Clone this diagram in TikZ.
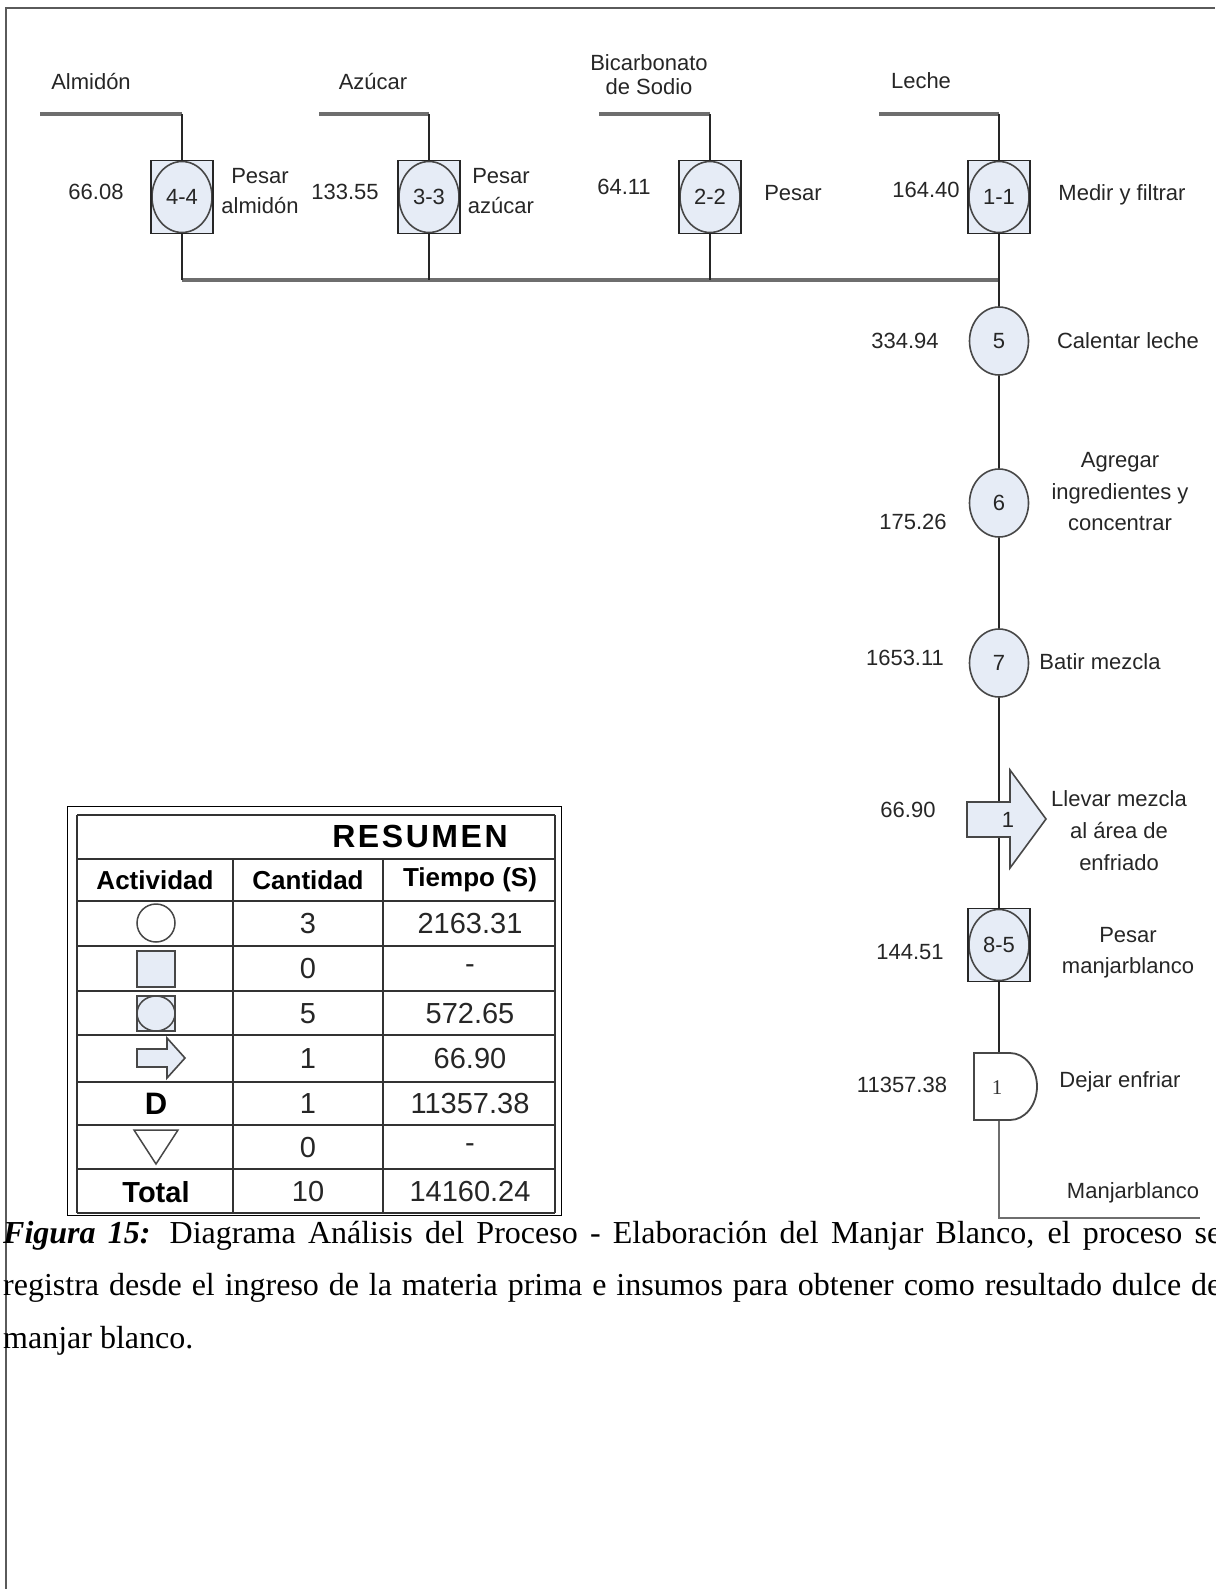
\documentclass[tikz,border=0pt]{standalone}
\usepackage{fontspec}
\setmainfont{Liberation Serif}
\newfontfamily\diagfont{Liberation Sans}
\newfontfamily\spacedfont[LetterSpace=8]{Liberation Sans}
\usetikzlibrary{shapes.geometric}
\definecolor{opfill}{HTML}{E6ECF6}
\definecolor{edgegray}{HTML}{474747}
\definecolor{feedgray}{HTML}{6E6E6E}
\definecolor{framegray}{HTML}{5A5A5A}
\pgfdeclarelayer{bg}
\pgfsetlayers{bg,main}
\begin{document}
\begin{tikzpicture}[x=1pt,y=-1pt,
  lbl/.style={font=\diagfont\fontsize{22}{30}\selectfont, text=black!85, inner sep=0, align=center},
  opcirc/.style={ellipse, draw=edgegray, line width=1.6, fill=opfill, minimum width=59, minimum height=68, inner sep=0,
    font=\diagfont\fontsize{22}{26}\selectfont, text=black!85},
  opbox/.style={rectangle, draw=black!85, line width=1.8, fill=opfill, minimum width=62, minimum height=73, inner sep=0,
    font=\diagfont\fontsize{22}{26}\selectfont, text=black!85,
    path picture={\draw[edgegray, line width=1.6] (path picture bounding box.center) ellipse [x radius=30, y radius=35.5];}},
  feed/.style={feedgray, line width=3.2},
  flow/.style={black!85, line width=1.5},
  symline/.style={draw=edgegray, line width=1.6, fill=opfill},
  tline/.style={black!80, line width=2},
  thead/.style={font=\diagfont\bfseries\fontsize{26}{30}\selectfont, inner sep=0},
  tval/.style={font=\diagfont\fontsize{29}{32}\selectfont, text=black!85, inner sep=0},
  pageframe/.style={framegray, line width=2}
]
\useasboundingbox (0,0) rectangle (1215,1589);
\clip (0,0) rectangle (1215,1589);

% page frame
\draw[pageframe] (6,1589) -- (6,8) -- (1215,8);

% ---------- operations ----------
\node[opbox] (b44) at (182,197) {4-4};
\node[opbox] (b33) at (429,197) {3-3};
\node[opbox] (b22) at (710,197) {2-2};
\node[opbox] (b11) at (999,197) {1-1};
\node[opcirc] (c5) at (999,341) {5};
\node[opcirc] (c6) at (999,503) {6};
\node[opcirc] (c7) at (999,663) {7};
\node[opbox] (b85) at (999,945) {8-5};

% transport arrow
\coordinate (tc) at (999,819);
\filldraw[symline] (967,802) -- (1010,802) -- (1010,770) -- (1046,819) -- (1010,868) -- (1010,837) -- (967,837) -- cycle;
\node[lbl] (tnum) at (1008,820) {1};

% delay
\coordinate (dc) at (999,1086);
\filldraw[draw=edgegray, line width=1.8, fill=white] (974,1053) -- (1010,1053)
  arc[start angle=-90, end angle=90, x radius=27, y radius=33.5] -- (974,1120) -- cycle;
\node[font=\fontsize{21}{21}\selectfont, text=black!80, inner sep=0] (dnum) at (997,1088) {1};

% ---------- inputs ----------
\node[lbl] (inAt) at (91,82) {Almidón};
\node[lbl] (inBt) at (373,82) {Azúcar};
\node[lbl, font=\diagfont\fontsize{22}{24}\selectfont] (inCt) at (649,75) {Bicarbonato\\de Sodio};
\node[lbl] (inDt) at (921,81) {Leche};
\coordinate (inA) at (40,114);
\coordinate (inB) at (319,114);
\coordinate (inC) at (599,114);
\coordinate (inD) at (879,114);
\coordinate (bus) at (0,280);
\coordinate (outc) at (1200,1218);

\begin{pgfonlayer}{bg}
  \draw[feed] (inA) -- (inA -| b44);
  \draw[feed] (inB) -- (inB -| b33);
  \draw[feed] (inC) -- (inC -| b22);
  \draw[feed] (inD) -- (inD -| b11);
  \draw[flow] (inA -| b44) -- (b44);
  \draw[flow] (inB -| b33) -- (b33);
  \draw[flow] (inC -| b22) -- (b22);
  \draw[flow] (inD -| b11) -- (b11);
  \draw[feed] (bus -| b44) -- (bus -| b11);
  \draw[flow] (b44) -- (bus -| b44);
  \draw[flow] (b33) -- (bus -| b33);
  \draw[flow] (b22) -- (bus -| b22);
  \draw[flow] (b11) -- (c5);
  \draw[flow] (c5) -- (c6);
  \draw[flow] (c6) -- (c7);
  \draw[flow] (c7) -- (tc);
  \draw[flow] (tc) -- (b85);
  \draw[flow] (b85) -- (dc);
  \draw[feed, line width=2.6] (dc) |- (outc);
\end{pgfonlayer}

% ---------- times and descriptions ----------
\node[lbl] (t44) at (96,192) {66.08};
\node[lbl] (d44) at (260,191) {Pesar\\almidón};
\node[lbl] (t33) at (345,192) {133.55};
\node[lbl] (d33) at (501,191) {Pesar\\azúcar};
\node[lbl] (t22) at (624,187) {64.11};
\node[lbl] (d22) at (793,193) {Pesar};
\node[lbl] (t11) at (926,190) {164.40};
\node[lbl] (d11) at (1122,195) {Medir y filtrar};
\node[lbl] (t5) at (905,341) {334.94};
\node[lbl] (d5) at (1128,341) {Calentar leche};
\node[lbl] (t6) at (913,522) {175.26};
\node[lbl, font=\diagfont\fontsize{22}{31.5}\selectfont] (d6) at (1120,492) {Agregar\\ingredientes y\\concentrar};
\node[lbl] (t7) at (905,658) {1653.11};
\node[lbl] (d7) at (1100,662) {Batir mezcla};
\node[lbl] (tt) at (908,810) {66.90};
\node[lbl, font=\diagfont\fontsize{22}{32}\selectfont] (dt) at (1119,831) {Llevar mezcla\\al área de\\enfriado};
\node[lbl] (t85) at (910,952) {144.51};
\node[lbl, font=\diagfont\fontsize{22}{31}\selectfont] (d85) at (1128,953) {Pesar\\manjarblanco};
\node[lbl] (td) at (902,1085) {11357.38};
\node[lbl] (dd) at (1120,1082) {Dejar enfriar};
\node[lbl] (outt) at (1133,1193) {Manjarblanco};

% ---------- summary table ----------
\draw[black, line width=1] (67,806) rectangle (561,1215);
\foreach \yy in {815,859,901,946,991,1035,1082,1125,1169,1213}
  \draw[tline] (77,\yy) -- (555,\yy);
\draw[tline] (77,815) -- (77,1213);
\draw[tline] (555,815) -- (555,1213);
\draw[tline] (233,859) -- (233,1213);
\draw[tline] (383,859) -- (383,1213);

\node[font=\spacedfont\bfseries\fontsize{32}{34}\selectfont, inner sep=0] (tres) at (420,836) {RESUMEN};
\node[thead] (hA) at (155,880) {Actividad};
\node[thead] (hB) at (308,880) {Cantidad};
\node[thead] (hC) at (470,880) {Tiempo (S)};

% activity symbols
\draw[edgegray, line width=1.5, fill=white] (156,923) circle [radius=19];
\filldraw[symline] (137,951) rectangle (175,987);
\filldraw[symline] (137,996) rectangle (175,1031);
\draw[edgegray, line width=1.5] (156,1013.5) ellipse [x radius=19, y radius=17.5];
\filldraw[symline] (137,1049) -- (167,1049) -- (167,1038) -- (185,1058) -- (167,1078) -- (167,1067) -- (137,1067) -- cycle;
\node[font=\diagfont\bfseries\fontsize{31}{34}\selectfont, inner sep=0] (sD) at (156,1104) {D};
\draw[edgegray, line width=1.5, fill=white] (134,1130) -- (178,1130) -- (156,1164) -- cycle;
\node[font=\diagfont\bfseries\fontsize{29}{32}\selectfont, inner sep=0] (sT) at (156,1192) {Total};

% quantities and times
\foreach \yy/\q/\tm [count=\i] in {924/3/2163.31, 969/0/-, 1014/5/572.65, 1059/1/66.90, 1104/1/11357.38, 1148/0/-, 1192/10/14160.24}{
  \node[tval] (q\i) at (308,\yy) {\q};
  \node[tval] (m\i) at (470,\yy) {\tm};
}

% ---------- caption ----------
\node[anchor=base west, inner sep=0, text=black] (cap) at (3,1243) {\parbox[t]{1218pt}{\fontsize{32}{52.5}\selectfont
\textbf{\textit{Figura 15:}} Diagrama Análisis del Proceso - Elaboración del Manjar Blanco, el proceso se\linebreak
registra desde el ingreso de la materia prima e insumos para obtener como resultado dulce de\linebreak
manjar blanco.}};
\end{tikzpicture}
\end{document}
